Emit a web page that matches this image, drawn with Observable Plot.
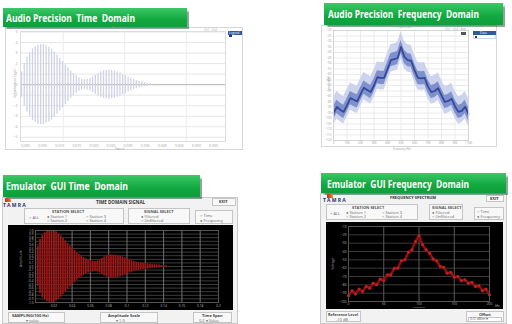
<!DOCTYPE html>
<html><head><meta charset="utf-8">
<script src="https://cdn.jsdelivr.net/npm/d3@7"></script>
<script src="https://cdn.jsdelivr.net/npm/@observablehq/plot@0.6"></script>
<style>
body{margin:0;width:512px;height:324px;background:#fff;position:relative;overflow:hidden;font-family:"Open Sans",sans-serif}
.banner{position:absolute;background:linear-gradient(#3cc868,#12a840 60%,#0f9e3b);color:#fff;font-weight:700;line-height:1;display:flex;align-items:center;box-sizing:border-box;box-shadow:1.5px 1.5px 1px rgba(0,60,20,.45);white-space:pre;overflow:hidden}
.banner span{display:inline-block;transform-origin:left center}
.frame{position:absolute;border:1px solid #d6d6d6;background:#fff;box-sizing:border-box}
.gui{position:absolute;background:#f2f2f2;border:1px solid #c9c9c9;box-sizing:border-box}
.box{position:absolute;border:1px solid #c4c4c4;background:#f8f8f8;box-sizing:border-box}
.t{position:absolute;font-size:4px;color:#666;white-space:nowrap;line-height:1}
.b{font-weight:700;color:#333}
.pl{position:absolute}
.pl svg{display:block}
</style></head><body>
<script>
// ---- Audio Precision time domain (ms, envelope amplitude) ----
const apTime = [-1.2,-0.4,0.4,1.2,2.0,2.8,3.6,4.4,5.2,6.0,6.8,7.6,8.4,9.2,10.0,10.8,11.6,12.4,13.2,14.0,14.8,15.6,16.4,17.2,18.0,18.8,19.6,20.4,21.2,22.0,22.8,23.6,24.4,25.2,26.0,26.8,27.6,28.4,29.2,30.0,30.8,31.6,32.4,33.2,34.0,34.8,35.6,36.4,37.2];
const apEnvelope = [1.2,2.0,2.6,3.0,3.4,3.6,3.75,3.8,3.8,3.7,3.55,3.35,3.1,2.8,2.5,2.2,1.9,1.6,1.3,1.05,0.85,0.65,0.5,0.45,0.5,0.6,0.75,0.9,1.05,1.2,1.3,1.35,1.38,1.35,1.3,1.2,1.1,0.95,0.85,0.7,0.6,0.5,0.4,0.32,0.25,0.18,0.12,0.08,0.05];
const apTimeTicks = [0,5,10,15,20,25,30,35,40,45,50,55];
const apTimeGrid = [11,29,47];
const apAmpTicks = [-5,-4,-3,-2,-1,0,1,2,3,4,5];
// ---- Audio Precision frequency domain ----
const apFreq = [0,25,50,75,100,125,150,175,200,225,250,275,300,325,350,375,400,425,450,475,500,525,550,575,600,625,650,675,700,725,750,775,800,825,850,875,900,925,950,975,1000];
const apLevel = [-95,-89.5,-92,-94,-88,-81.5,-83,-84.5,-78,-72,-74,-76,-70,-62.5,-63,-63,-55,-47,-46,-45,-35,-44,-47,-47.5,-56,-63,-63.5,-63,-71,-76,-75,-72.5,-79,-85,-84,-82,-89,-94,-93,-89.5,-96];
const apBandOuter = [14, 11];
const apBandInner = [6, 6];
const apFreqTicks = [0,100,200,300,400,500,600,700,800,900,1000];
const apDbTicks = [-120,-115,-110,-105,-100,-95,-90,-85,-80,-75,-70,-65,-60,-55,-50,-45,-40,-35,-30,-25,-20];
// ---- Emulator time domain (s) ----
const emuTime = [0.0025,0.005,0.0075,0.01,0.0125,0.015,0.0175,0.02,0.0225,0.025,0.0275,0.03,0.0325,0.035,0.0375,0.04,0.0425,0.045,0.0475,0.05,0.0525,0.055,0.0575,0.06,0.0625,0.065,0.0675,0.07,0.0725,0.075,0.0775,0.08,0.0825,0.085,0.0875,0.09,0.0925,0.095,0.0975,0.1,0.1025,0.105,0.1075,0.11,0.1125,0.115,0.1175,0.12,0.1225,0.125,0.1275,0.13,0.1325,0.135,0.1375,0.14,0.1425];
const emuEnvelope = [0.55,0.75,0.86,0.93,0.97,0.99,1.0,0.99,0.96,0.91,0.85,0.78,0.71,0.64,0.57,0.5,0.44,0.38,0.33,0.29,0.25,0.21,0.18,0.16,0.15,0.14,0.15,0.18,0.22,0.26,0.29,0.31,0.32,0.32,0.31,0.3,0.28,0.26,0.24,0.21,0.18,0.16,0.14,0.12,0.11,0.1,0.09,0.08,0.07,0.06,0.05,0.05,0.04,0.04,0.03,0.03,0.02];
const emuTimeTicks = [0.02,0.04,0.06,0.08,0.1,0.12,0.14,0.16,0.18,0.2];
const emuAmpTicks = [-1,-0.9,-0.8,-0.7,-0.6,-0.5,-0.4,-0.3,-0.2,-0.1,0,0.1,0.2,0.3,0.4,0.5,0.6,0.7,0.8,0.9,1];
// ---- Emulator frequency spectrum ----
const emuFreq = [0,5,10,15,20,25,30,35,40,45,50,55,60,65,70,75,80,85,90,95,100,105,110,115,120,125,130,135,140,145,150,155,160,165,170,175,180,185,190,195,200];
const emuLevel = [-93,-87,-91,-85,-88,-82,-84,-78,-80,-73,-75,-68,-68,-60,-60,-51,-50,-41,-38,-28,-21,-32,-38,-42,-49,-51,-58,-59,-66,-65,-71,-70,-75,-74,-78,-77,-82,-81,-87,-85,-92];
const emuFreqTicks = [0,50,100,150,200];
const emuDbTicks = [-100,-90,-80,-70,-60,-50,-40,-30,-20,-10];
// ---- texts ----
const bannerTexts = ["Audio Precision  Time  Domain","Audio Precision  Frequency  Domain","Emulator  GUI Time  Domain","Emulator  GUI Frequency  Domain"];
</script>

<!-- frames -->
<div class="frame" style="left:5px;top:27px;width:238px;height:123px"></div>
<div class="frame" style="left:321px;top:25px;width:176px;height:122px"></div>
<div class="gui" style="left:2px;top:197px;width:236px;height:127px"></div>
<div class="gui" style="left:320px;top:193px;width:187px;height:131px"></div>

<div id="p1" class="pl" style="left:5px;top:27px"></div>
<div id="p2" class="pl" style="left:321px;top:25px"></div>
<div id="p3" class="pl" style="left:8px;top:225px"></div>
<div id="p4" class="pl" style="left:326px;top:222px"></div>

<!-- banners -->
<div class="banner" id="bn0" style="left:3px;top:8px;width:184px;height:19px;padding-left:3px;font-size:10px"><span data-w="129"></span></div>
<div class="banner" id="bn1" style="left:324px;top:3px;width:179px;height:22px;padding-left:4px;font-size:10.5px"><span data-w="151"></span></div>
<div class="banner" id="bn2" style="left:3px;top:175px;width:197px;height:22px;padding-left:3px;font-size:10px"><span data-w="122"></span></div>
<div class="banner" id="bn3" style="left:321px;top:173px;width:185px;height:20px;padding-left:6px;font-size:11px"><span data-w="142"></span></div>

<!-- AP small decorations -->
<div class="t" style="left:112px;top:27px;font-size:3px;color:#999">Waveform</div>
<div class="t" style="left:204px;top:29px;font-size:3px;color:#aaa">Ch1 · Ch2</div>
<div style="position:absolute;left:228px;top:31px;width:14px;height:4px;background:#2f5b9e"></div>
<div class="t" style="left:229px;top:31.5px;font-size:3px;color:#fff">Legend</div>
<div style="position:absolute;left:229px;top:35px;width:3px;height:2px;background:#1d3d78"></div>
<div class="t" style="left:1px;top:82px;font-size:3px;color:#999;transform:rotate(-90deg)">Instantaneous Level</div>
<div class="t" style="left:115px;top:147.5px;font-size:2.6px;color:#999">Time (s)</div>

<div class="t" style="left:393px;top:25.5px;font-size:3px;color:#999">FFT Spectrum</div>
<div class="t" style="left:445px;top:28px;font-size:3px;color:#aaa">Ch1 · Ch2 · Avg</div>
<div style="position:absolute;left:461px;top:32px;width:5px;height:3px;background:#555"></div>
<div style="position:absolute;left:473px;top:31px;width:23px;height:8px;background:#fff;border:1px solid #cfd6e6;box-sizing:border-box"></div>
<div style="position:absolute;left:473px;top:31px;width:23px;height:3.5px;background:#2f5b9e"></div>
<div class="t" style="left:480px;top:31.5px;font-size:3px;color:#fff">Data</div>
<div style="position:absolute;left:475px;top:35.5px;width:2px;height:2px;background:#1d3d78"></div>
<div class="t" style="left:322px;top:82px;font-size:3px;color:#999;transform:rotate(-90deg)">Level (dBV)</div>
<div class="t" style="left:393px;top:147.5px;font-size:2.6px;color:#999">Frequency (Hz)</div>

<!-- Emulator time GUI widgets -->
<div style="position:absolute;left:5px;top:198px;width:6px;height:4px;background:linear-gradient(90deg,#d42020,#f08020);border-radius:1px 3px 0 0"></div>
<div class="t b" style="left:3px;top:202.5px;font-size:5px;color:#243564;letter-spacing:1.2px">TAMRA</div>
<div class="t b" style="left:96px;top:200px;font-size:4.5px">TIME DOMAIN SIGNAL</div>
<div class="box" style="left:212px;top:198px;width:24px;height:8px"></div>
<div class="t b" style="left:219px;top:200px;font-size:4px">EXIT</div>
<div class="box" style="left:24px;top:208px;width:100px;height:16px"></div>
<div class="t b" style="left:52px;top:210px;font-size:4px;color:#555">STATION SELECT</div>
<div class="t" style="left:29px;top:216px">○ ALL</div>
<div class="t" style="left:47px;top:214.5px">● Station 1</div>
<div class="t" style="left:47px;top:219px">○ Station 2</div>
<div class="t" style="left:86px;top:214.5px">○ Station 3</div>
<div class="t" style="left:86px;top:219px">○ Station 4</div>
<div class="box" style="left:128px;top:208px;width:62px;height:16px"></div>
<div class="t b" style="left:144px;top:210px;font-size:4px;color:#555">SIGNAL SELECT</div>
<div class="t" style="left:141px;top:215px">● Filtered</div>
<div class="t" style="left:141px;top:219px">○ Unfiltered</div>
<div class="box" style="left:195px;top:210px;width:38px;height:14px"></div>
<div class="t" style="left:200px;top:214px">○ Time</div>
<div class="t" style="left:200px;top:218.5px">● Frequency</div>
<div class="t" style="left:12px;top:257px;font-size:3.5px;color:#999;transform:rotate(-90deg)">Amplitude</div>
<div class="box" style="left:8px;top:312px;width:57px;height:11px"></div>
<div class="t b" style="left:12px;top:313.5px;font-size:4px;color:#444">SAMPLING(100 Hz)</div>
<div class="t" style="left:26px;top:318.5px">▾ value</div>
<div class="box" style="left:100px;top:312px;width:58px;height:11px"></div>
<div class="t b" style="left:108px;top:313.5px;font-size:4px;color:#444">Amplitude Scale</div>
<div class="t" style="left:116px;top:318.5px">▾ 1.0</div>
<div class="box" style="left:193px;top:312px;width:39px;height:11px"></div>
<div class="t b" style="left:202px;top:313.5px;font-size:4px;color:#444">Time Span</div>
<div class="t" style="left:199px;top:318.5px">0.2   ▾ Value</div>

<!-- Emulator frequency GUI widgets -->
<div style="position:absolute;left:327px;top:194px;width:6px;height:4px;background:linear-gradient(90deg,#d42020,#f08020);border-radius:1px 3px 0 0"></div>
<div class="t b" style="left:323px;top:198px;font-size:5px;color:#243564;letter-spacing:1.2px">TAMRA</div>
<div class="t b" style="left:390px;top:196px;font-size:4px">FREQUENCY SPECTRUM</div>
<div class="box" style="left:486px;top:195px;width:18px;height:7px"></div>
<div class="t b" style="left:490px;top:196.5px;font-size:4px">EXIT</div>
<div class="box" style="left:326px;top:204px;width:92px;height:16px"></div>
<div class="t b" style="left:352px;top:206px;font-size:4px;color:#555">STATION SELECT</div>
<div class="t" style="left:330px;top:212px">○ ALL</div>
<div class="t" style="left:346px;top:211px">● Station 1</div>
<div class="t" style="left:346px;top:215px">○ Station 2</div>
<div class="t" style="left:382px;top:211px">○ Station 3</div>
<div class="t" style="left:382px;top:215px">○ Station 4</div>
<div class="box" style="left:429px;top:204px;width:34px;height:16px"></div>
<div class="t b" style="left:432px;top:206px;font-size:4px;color:#555">SIGNAL SELECT</div>
<div class="t" style="left:432px;top:211px">● Filtered</div>
<div class="t" style="left:432px;top:215px">○ Unfiltered</div>
<div class="box" style="left:474px;top:207px;width:30px;height:13px"></div>
<div class="t" style="left:477px;top:210px">○ Time</div>
<div class="t" style="left:477px;top:215px">● Frequency</div>
<div class="t" style="left:327px;top:262px;font-size:3.5px;color:#999;transform:rotate(-90deg)">Voltage</div>
<div class="t" style="left:413px;top:306px;font-size:2.5px;color:#aaa">Frequency</div>
<div class="t" style="left:495px;top:305px;font-size:2.6px;color:#bbb">kHz</div>
<div class="box" style="left:326px;top:311px;width:35px;height:11px"></div>
<div class="t b" style="left:328px;top:312.5px;font-size:3.8px;color:#444">Reference Level</div>
<div class="t" style="left:336px;top:317.5px">-10  dB</div>
<div class="box" style="left:466px;top:311px;width:38px;height:11px"></div>
<div class="t b" style="left:479px;top:312.5px;font-size:3.8px;color:#444">Offset</div>
<div class="box" style="left:468px;top:316.5px;width:34px;height:5px;background:#fff"></div>
<div class="t" style="left:470px;top:317px">0.0 dBm      ▾</div>

<script>
const baseStyle = {background: "transparent", fontFamily: "Open Sans", fontSize: "4px", overflow: "visible"};

// Panel 1: AP time domain
const apWave = apTime.map((t, i) => ({t, a: apEnvelope[i]}));
document.getElementById("p1").append(Plot.plot({
  width: 238, height: 123,
  marginLeft: 15, marginRight: 18, marginTop: 4, marginBottom: 9,
  style: {...baseStyle, color: "#a0a0a0", fontSize: "3.5px"},
  x: {domain: [-1.5, 58.5], ticks: apTimeTicks, tickSize: 0, tickPadding: 3, label: null, tickFormat: d => (d / 1000).toFixed(3)},
  y: {domain: [-5.4, 5.05], ticks: apAmpTicks, tickSize: 0, tickPadding: 3, label: null},
  marks: [
    Plot.gridY(apAmpTicks, {stroke: "#e6e6e6", strokeOpacity: 1}),
    Plot.gridX(apTimeGrid, {stroke: "#ececec", strokeOpacity: 1}),
    Plot.ruleY([0], {stroke: "#b8b8b8"}),
    Plot.ruleX(apWave, {x: "t", y1: d => -d.a, y2: d => d.a, stroke: "#cfd1e5", strokeWidth: 1.3}),
    Plot.frame({stroke: "#dcdcdc"})
  ]
}));

// Panel 2: AP frequency domain
const apSpec = apFreq.map((f, i) => ({f, v: apLevel[i]}));
document.getElementById("p2").append(Plot.plot({
  width: 176, height: 122,
  marginLeft: 12, marginRight: 29, marginTop: 5, marginBottom: 7,
  style: {...baseStyle, color: "#a0a0a0", fontSize: "3px"},
  x: {domain: [0, 1000], ticks: apFreqTicks, tickSize: 0, tickPadding: 1.5, label: null},
  y: {domain: [-120, -20], ticks: apDbTicks, tickSize: 0, tickPadding: 2, label: null},
  marks: [
    Plot.gridX(apFreqTicks, {stroke: "#ebebeb", strokeOpacity: 1}),
    Plot.gridY(apDbTicks, {stroke: "#ebebeb", strokeOpacity: 1}),
    Plot.areaY(apSpec, {x: "f", y1: d => d.v - apBandOuter[1], y2: d => d.v + apBandOuter[0], fill: "#ccd3ec"}),
    Plot.areaY(apSpec, {x: "f", y1: d => d.v - apBandInner[1], y2: d => d.v + apBandInner[0], fill: "#7f91cc"}),
    Plot.line(apSpec, {x: "f", y: "v", stroke: "#34499b", strokeWidth: 1.8}),
    Plot.frame({stroke: "#d4d4d4"})
  ]
}));

// Panel 3: Emulator time domain
const emuWave = emuTime.map((t, i) => ({t, a: emuEnvelope[i]}));
document.getElementById("p3").append(Plot.plot({
  width: 225, height: 85,
  marginLeft: 27, marginRight: 15, marginTop: 5, marginBottom: 8,
  style: {...baseStyle, background: "#000", color: "#bdbdbd", fontSize: "3.2px"},
  x: {domain: [0, 0.2], ticks: emuTimeTicks, tickSize: 0, tickPadding: 2, label: null, tickFormat: d => String(+d.toFixed(2))},
  y: {domain: [-1, 1], ticks: emuAmpTicks, tickSize: 0, tickPadding: 2, label: null, tickFormat: d => d.toFixed(1)},
  marks: [
    Plot.gridY(emuAmpTicks, {stroke: "#3c3c3c", strokeOpacity: 1}),
    Plot.gridX(emuTimeTicks, {stroke: "#707070", strokeOpacity: 1}),
    Plot.ruleX(emuWave, {x: "t", y1: d => -d.a, y2: d => d.a, stroke: "#8c0f0f", strokeWidth: 1.7}),
    Plot.ruleX(emuWave, {x: "t", y1: d => -d.a, y2: d => d.a, stroke: "#b82020", strokeWidth: 0.6}),
    Plot.frame({stroke: "#555"})
  ]
}));

// Panel 4: Emulator frequency spectrum
const emuSpec = emuFreq.map((f, i) => ({f, v: emuLevel[i]}));
document.getElementById("p4").append(Plot.plot({
  width: 177, height: 87,
  marginLeft: 22, marginRight: 14, marginTop: 4, marginBottom: 8,
  style: {...baseStyle, background: "#000", color: "#bdbdbd", fontSize: "3.2px"},
  x: {domain: [0, 200], ticks: emuFreqTicks, tickSize: 0, tickPadding: 1, label: null},
  y: {domain: [-100, -10], ticks: emuDbTicks, tickSize: 0, tickPadding: 2, label: null},
  marks: [
    Plot.gridY(emuDbTicks, {stroke: "#3a3a3a", strokeOpacity: 1}),
    Plot.gridX(emuFreqTicks, {stroke: "#5a5a5a", strokeOpacity: 1}),
    Plot.line(emuSpec, {x: "f", y: "v", stroke: "#8a1010", strokeWidth: 2.6}),
    Plot.dot(emuSpec, {x: "f", y: "v", r: 1.5, fill: "#c41e1e", stroke: "none"}),
    Plot.frame({stroke: "#555"})
  ]
}));

// banner texts, fitted to the reference widths
bannerTexts.forEach((txt, i) => {
  const s = document.querySelector(`#bn${i} span`);
  s.textContent = txt;
  const w = s.getBoundingClientRect().width;
  s.style.transform = `scaleX(${(+s.dataset.w) / w})`;
});
</script>
</body></html>
